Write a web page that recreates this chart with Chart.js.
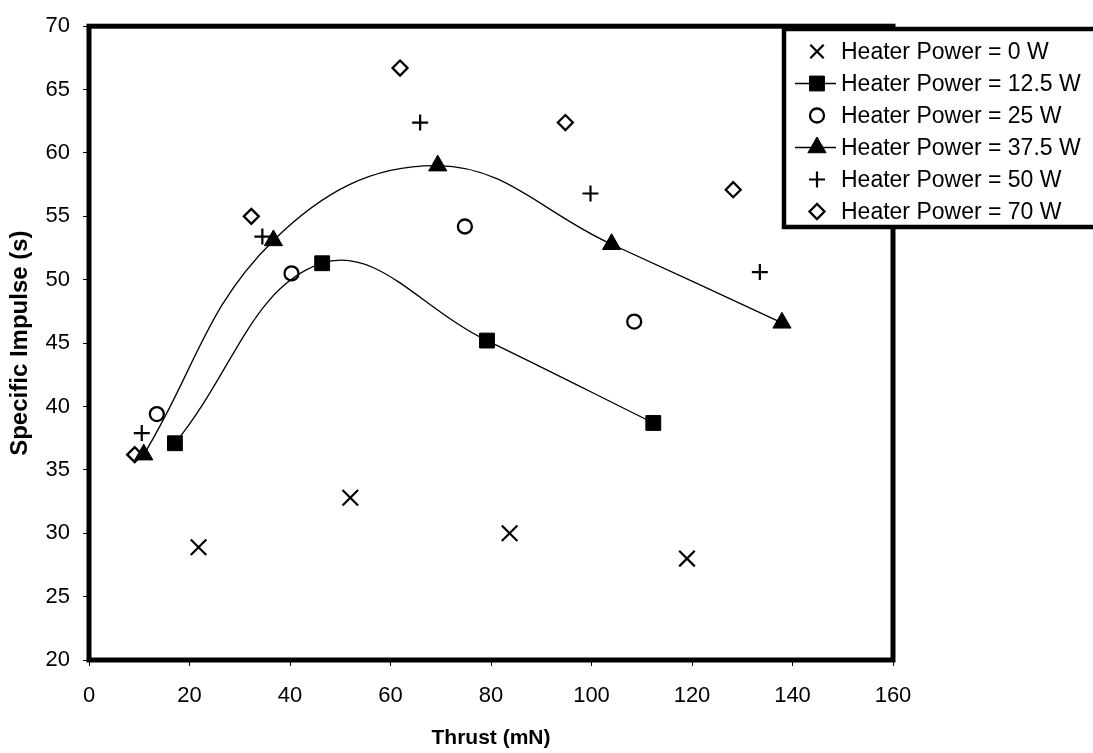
<!DOCTYPE html>
<html><head><meta charset="utf-8">
<script src="https://cdn.jsdelivr.net/npm/chart.js@4/dist/chart.umd.min.js"></script>
<style>html,body{margin:0;padding:0;background:#fff;overflow:hidden}#wrap{width:1093px;height:753px;position:relative}</style>
</head><body><div id="wrap"><canvas id="c" width="1093" height="753"></canvas></div>
<script>
// ---- data ----
const seriesLabels = ['Heater Power = 0 W','Heater Power = 12.5 W','Heater Power = 25 W','Heater Power = 37.5 W','Heater Power = 50 W','Heater Power = 70 W'];
const thrust0  = [21.8, 52.0, 83.7, 119.0];
const isp0     = [28.9, 32.8, 30.0, 28.0];
const thrust12 = [17.1, 46.4, 79.2, 112.3];
const isp12    = [37.1, 51.3, 45.2, 38.7];
const thrust25 = [13.5, 40.3, 74.8, 108.5];
const isp25    = [39.4, 50.5, 54.2, 46.7];
const thrust37 = [10.9, 36.7, 69.4, 104.0, 137.9];
const isp37    = [36.2, 53.1, 59.0, 52.8, 46.6];
const thrust50 = [10.5, 34.5, 65.9, 99.8, 133.5];
const isp50    = [37.9, 53.4, 62.4, 56.8, 50.6];
const thrust70 = [9.1, 32.3, 61.9, 94.8, 128.2];
const isp70    = [36.2, 55.0, 66.7, 62.4, 57.1];
const xTicks = [0, 20, 40, 60, 80, 100, 120, 140, 160];
const yTicks = [20, 25, 30, 35, 40, 45, 50, 55, 60, 65, 70];
const xTitle = 'Thrust (mN)';
const yTitle = 'Specific Impulse (s)';

const FONT = '"Liberation Sans", Arial, Helvetica, sans-serif';
const pts = (xs, ys) => xs.map((x, i) => ({x, y: ys[i]}));

const styles = [
  {pointStyle:'crossRot', r:11, fill:'#000', bw:2.2, line:false},
  {pointStyle:'rect', r:10.5, fill:'#000', bw:1, line:true},
  {pointStyle:'circle', r:7, fill:'#fff', bw:2.3, line:false},
  {pointStyle:'triangle', r:10.5, fill:'#000', bw:1, line:true},
  {pointStyle:'cross', r:8, fill:'#000', bw:2.2, line:false},
  {pointStyle:'rectRot', r:7.5, fill:'#fff', bw:2.3, line:false}
];
const dataArr = [pts(thrust0,isp0), pts(thrust12,isp12), pts(thrust25,isp25), pts(thrust37,isp37), pts(thrust50,isp50), pts(thrust70,isp70)];

const datasets = dataArr.map((d, i) => ({
  label: seriesLabels[i],
  data: d,
  showLine: styles[i].line,
  tension: 0.4,
  borderColor: '#000',
  borderWidth: 1.3,
  pointStyle: styles[i].pointStyle,
  pointRadius: styles[i].r,
  pointHoverRadius: styles[i].r,
  pointBackgroundColor: styles[i].fill,
  pointBorderColor: '#000',
  pointBorderWidth: styles[i].bw,
  clip: false
}));

function marker(ctx, style, x, y, r, fill, bw) {
  ctx.save();
  ctx.beginPath();
  ctx.lineWidth = bw; ctx.strokeStyle = '#000'; ctx.fillStyle = fill;
  const Q = Math.PI / 4;
  if (style === 'circle') { ctx.arc(x, y, r, 0, 2*Math.PI); ctx.fill(); ctx.stroke(); }
  else if (style === 'rect') { const s = Math.SQRT1_2 * r; ctx.rect(x-s, y-s, 2*s, 2*s); ctx.fill(); ctx.stroke(); }
  else if (style === 'rectRot') { ctx.moveTo(x-r, y); ctx.lineTo(x, y-r); ctx.lineTo(x+r, y); ctx.lineTo(x, y+r); ctx.closePath(); ctx.fill(); ctx.stroke(); }
  else if (style === 'triangle') {
    let a = 0; ctx.moveTo(x + Math.sin(a)*r, y - Math.cos(a)*r);
    a += 2*Math.PI/3; ctx.lineTo(x + Math.sin(a)*r, y - Math.cos(a)*r);
    a += 2*Math.PI/3; ctx.lineTo(x + Math.sin(a)*r, y - Math.cos(a)*r);
    ctx.closePath(); ctx.fill(); ctx.stroke();
  }
  else if (style === 'cross') { ctx.moveTo(x-r, y); ctx.lineTo(x+r, y); ctx.moveTo(x, y-r); ctx.lineTo(x, y+r); ctx.stroke(); }
  else if (style === 'crossRot') { const o = Math.cos(Q)*r; ctx.moveTo(x-o, y-o); ctx.lineTo(x+o, y+o); ctx.moveTo(x+o, y-o); ctx.lineTo(x-o, y+o); ctx.stroke(); }
  ctx.restore();
}

const framePlugin = {
  id: 'frame',
  beforeDatasetsDraw(chart) {
    const {ctx, chartArea: a} = chart;
    ctx.save();
    ctx.strokeStyle = '#000'; ctx.lineWidth = 5;
    ctx.strokeRect(a.left, a.top, a.right - a.left, a.bottom - a.top);
    ctx.restore();
  },
  afterDraw(chart) {
    const ctx = chart.ctx;
    const L = {left: 784, top: 29, bottom: 227, right: 1110, row0: 51.5, gap: 32, symX: 817, lineX0: 795, lineX1: 836, textX: 841};
    ctx.save();
    ctx.fillStyle = '#fff';
    ctx.fillRect(L.left, L.top, L.right - L.left, L.bottom - L.top);
    ctx.strokeStyle = '#000'; ctx.lineWidth = 4.5;
    ctx.strokeRect(L.left, L.top, L.right - L.left, L.bottom - L.top);
    ctx.font = '23px ' + FONT;
    ctx.textBaseline = 'middle'; ctx.textAlign = 'left';
    chart.data.datasets.forEach((ds, i) => {
      const y = L.row0 + i * L.gap;
      const st = styles[i];
      if (st.line) {
        ctx.beginPath(); ctx.lineWidth = 1.3; ctx.strokeStyle = '#000';
        ctx.moveTo(L.lineX0, y); ctx.lineTo(L.lineX1, y); ctx.stroke();
      }
      const lr = st.pointStyle === 'crossRot' ? 9.5 : st.r;
      marker(ctx, st.pointStyle, L.symX, y, lr, st.fill, st.bw);
      ctx.fillStyle = '#000';
      ctx.fillText(ds.label, L.textX, y + 1);
    });
    ctx.restore();
  }
};

new Chart(document.getElementById('c'), {
  type: 'scatter',
  data: {datasets},
  options: {
    responsive: false,
    animation: false,
    events: [],
    layout: {padding: {top: 22, right: 200, left: 0, bottom: 0}},
    plugins: {legend: {display: false}, tooltip: {enabled: false}},
    scales: {
      x: {
        type: 'linear', min: 0, max: 160,
        afterFit(s) { s.height = 93; },
        afterBuildTicks(s) { s.ticks = xTicks.map(v => ({value: v})); },
        grid: {drawOnChartArea: false, drawTicks: true, tickLength: 6, color: '#000', lineWidth: 1},
        border: {display: false},
        ticks: {color: '#000', padding: 17, font: {family: FONT, size: 22}, maxRotation: 0},
        title: {display: true, text: xTitle, color: '#000', padding: {top: 2, bottom: 2}, font: {family: FONT, size: 21, weight: 'bold'}}
      },
      y: {
        type: 'linear', min: 20, max: 70,
        afterFit(s) { s.width = 89; },
        afterBuildTicks(s) { s.ticks = yTicks.map(v => ({value: v})); },
        grid: {drawOnChartArea: false, drawTicks: true, tickLength: 6, color: '#000', lineWidth: 1},
        border: {display: false},
        ticks: {color: '#000', padding: 13, font: {family: FONT, size: 22}},
        title: {display: true, text: yTitle, color: '#000', padding: {top: 6, bottom: 6}, font: {family: FONT, size: 24, weight: 'bold'}}
      }
    }
  },
  plugins: [framePlugin]
});
</script>
</body></html>
